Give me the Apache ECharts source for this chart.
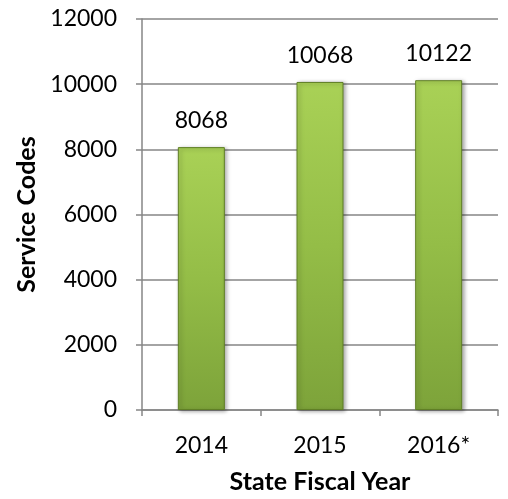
<!DOCTYPE html>
<html>
<head>
<meta charset="utf-8">
<script src="https://cdn.jsdelivr.net/npm/echarts@6/dist/echarts.min.js"></script>
<style>html,body{margin:0;padding:0;background:#fff;}#c{width:508px;height:499px;}</style>
</head>
<body>
<div id="c"></div>
<script>
var categories = ['2014', '2015', '2016*'];
var values = [8068, 10068, 10122];
var yTicks = [0, 2000, 4000, 6000, 8000, 10000, 12000];
var xTitle = 'State Fiscal Year';
var yTitle = 'Service Codes';

var chart = echarts.init(document.getElementById('c'), null, {renderer: 'canvas'});
var font = 'Lato, "Open Sans", sans-serif';
chart.setOption({
  animation: false,
  grid: {left: 142, right: 10, top: 19, bottom: 88, containLabel: false},
  xAxis: {
    type: 'category',
    data: categories,
    name: xTitle,
    nameLocation: 'middle',
    nameGap: 59,
    nameTextStyle: {fontFamily: font, fontWeight: 'bold', fontSize: 25, color: '#000'},
    axisLine: {lineStyle: {color: '#868686', width: 1.5}},
    axisTick: {show: true, alignWithLabel: false, length: 6, lineStyle: {color: '#868686', width: 1.5}},
    axisLabel: {fontFamily: font, fontSize: 23, color: '#000', margin: 24}
  },
  yAxis: {
    type: 'value',
    min: yTicks[0],
    max: yTicks[yTicks.length - 1],
    interval: 2000,
    name: yTitle,
    nameLocation: 'middle',
    nameGap: 98,
    nameTextStyle: {fontFamily: font, fontWeight: 'bold', fontSize: 25, color: '#000'},
    axisLine: {show: true, lineStyle: {color: '#868686', width: 1.5}},
    axisTick: {show: true, length: 6, lineStyle: {color: '#868686', width: 1.5}},
    axisLabel: {fontFamily: font, fontSize: 23, color: '#000', margin: 25, formatter: function (v) { return String(v); }},
    splitLine: {show: true, lineStyle: {color: '#868686', width: 1.5}}
  },
  series: [{
    type: 'bar',
    data: values,
    barWidth: 47,
    label: {show: true, position: 'top', distance: 15, fontFamily: font, fontSize: 23, color: '#000'},
    itemStyle: {
      color: new echarts.graphic.LinearGradient(0, 0, 0, 1, [
        {offset: 0, color: '#a9d156'},
        {offset: 0.5, color: '#94bd47'},
        {offset: 1, color: '#7da33a'}
      ]),
      borderColor: '#5f7f25',
      borderWidth: 1,
      shadowColor: 'rgba(0,0,0,0.35)',
      shadowBlur: 4,
      shadowOffsetX: 2,
      shadowOffsetY: 1
    }
  }]
});
</script>
</body>
</html>
